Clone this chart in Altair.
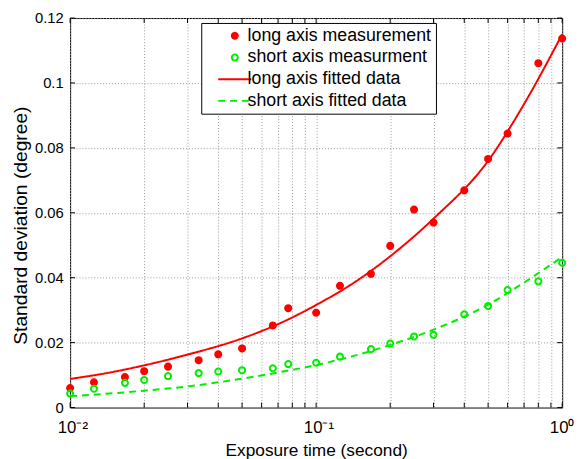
import altair as alt
import pandas as pd

FONT = "Liberation Sans"

# exposure times (s)
exposure = [0.01, 0.0125, 0.0167, 0.02, 0.025, 0.0333, 0.04, 0.05, 0.0667, 0.077,
            0.1, 0.125, 0.167, 0.2, 0.25, 0.3, 0.4, 0.5, 0.6, 0.8, 1.0]
long_meas = [0.0060, 0.0078, 0.0094, 0.0112, 0.0126, 0.0146, 0.0164, 0.0182, 0.0253, 0.0306,
             0.0292, 0.0375, 0.0412, 0.0498, 0.0610, 0.0570, 0.0669, 0.0766, 0.0844, 0.1061, 0.1137]
short_meas = [0.0043, 0.0058, 0.0076, 0.0085, 0.0097, 0.0106, 0.0111, 0.0115, 0.0121, 0.0134,
              0.0138, 0.0157, 0.0180, 0.0197, 0.0219, 0.0224, 0.0287, 0.0313, 0.0362, 0.0389, 0.0446]

# fitted curves
fit_x = [0.01, 0.015, 0.02, 0.03, 0.05, 0.07, 0.1, 0.15, 0.2, 0.3, 0.5, 0.7, 1.0]
long_fit = [0.0088, 0.0110, 0.0130, 0.0163, 0.0213, 0.0257, 0.0316, 0.0396, 0.0466, 0.0582, 0.0760, 0.0935, 0.1150]
short_fit = [0.0035, 0.0044, 0.0052, 0.0065, 0.0089, 0.0108, 0.0131, 0.0164, 0.0193, 0.0240, 0.0317, 0.0385, 0.0464]

series_names = ["long axis measurement", "short axis measurment",
                "long axis fitted data", "short axis fitted data"]

x_ticks = [0.01, 0.02, 0.03, 0.04, 0.05, 0.06, 0.07, 0.08, 0.09,
           0.1, 0.2, 0.3, 0.4, 0.5, 0.6, 0.7, 0.8, 0.9, 1.0]
y_ticks = [0, 0.02, 0.04, 0.06, 0.08, 0.1, 0.12]

meas = pd.concat([
    pd.DataFrame({"x": exposure, "y": long_meas, "series": series_names[0]}),
    pd.DataFrame({"x": exposure, "y": short_meas, "series": series_names[1]}),
])
fits = pd.concat([
    pd.DataFrame({"x": fit_x, "y": long_fit, "series": series_names[2]}),
    pd.DataFrame({"x": fit_x, "y": short_fit, "series": series_names[3]}),
])
xt = pd.DataFrame({"t": x_ticks})
yt = pd.DataFrame({"t": y_ticks})

RED = "#ff0000"
GREEN = "#00ee00"
LINE_SYM = "M-5.6,0L5.6,0"

W, H = 499, 395

legend = alt.Legend(orient="none", legendX=133, legendY=5, title=None,
                    strokeColor="black", fillColor="white", padding=4,
                    labelFont=FONT, labelFontSize=18, labelColor="black", labelLimit=400,
                    symbolStrokeWidth=2, symbolSize=36, rowPadding=4,
                    symbolOffset=21, labelOffset=4)

color = alt.Color("series:N", scale=alt.Scale(domain=series_names, range=[RED, GREEN, RED, GREEN]),
                  legend=legend)
xenc = alt.X("x:Q", scale=alt.Scale(type="log", domain=[0.01, 1], nice=False),
             title="Exposure time (second)",
             axis=alt.Axis(values=x_ticks, labelFlush=False, labelAlign="left", labelOffset=-13,
                           labelFontSize=17,
                           labelExpr="datum.value == 0.01 ? '10⁻²' : (datum.value == 0.1 ? '10⁻¹' : (datum.value == 1 ? '10⁰' : ''))"))
yenc = alt.Y("y:Q", scale=alt.Scale(domain=[0, 0.12], nice=False),
             title="Standard deviation (degree)",
             axis=alt.Axis(values=y_ticks, labelFlush=False, titleY=210,
                           labelExpr="format(datum.value, '~g')"))

points = alt.Chart(meas).mark_point(filled=False, strokeWidth=2, size=38, opacity=1).encode(
    x=xenc, y=yenc, color=color,
    shape=alt.Shape("series:N", scale=alt.Scale(domain=series_names,
                                                range=["circle", "circle", LINE_SYM, LINE_SYM]),
                    legend=legend),
    fill=alt.Fill("series:N", scale=alt.Scale(domain=series_names,
                                              range=[RED, "transparent", RED, "transparent"]),
                  legend=legend),
)

lines = alt.Chart(fits).mark_line(strokeWidth=2, interpolate="monotone").encode(
    x="x:Q", y="y:Q", color=color,
    strokeDash=alt.StrokeDash("series:N", scale=alt.Scale(domain=series_names,
                                                          range=[[1, 0], [1, 0], [1, 0], [7, 5]]),
                              legend=legend),
)

tick_len = 5
xt_bot = alt.Chart(xt).mark_rule(color="black", strokeWidth=1).encode(
    x="t:Q", y=alt.value(H), y2=alt.value(H - tick_len))
xt_top = alt.Chart(xt).mark_rule(color="black", strokeWidth=1).encode(
    x="t:Q", y=alt.value(0), y2=alt.value(tick_len))
yt_left = alt.Chart(yt).mark_rule(color="black", strokeWidth=1).encode(
    y="t:Q", x=alt.value(0), x2=alt.value(tick_len))
yt_right = alt.Chart(yt).mark_rule(color="black", strokeWidth=1).encode(
    y="t:Q", x=alt.value(W), x2=alt.value(W - tick_len))

chart = alt.layer(lines, points, xt_bot, xt_top, yt_left, yt_right).resolve_scale(
    color="shared"
).properties(
    width=W, height=H,
    padding={"left": 63, "top": 7, "right": 12, "bottom": 49},
    autosize=alt.AutoSizeParams(type="none"),
    background="white",
).configure_view(
    stroke="black", strokeWidth=1
).configure_axis(
    domain=False, ticks=False, grid=True, gridDash=[1, 2], gridColor="#999999",
    labelFont=FONT, labelFontSize=15, labelColor="black",
    titleFont=FONT, titleFontWeight="normal", titleColor="black",
).configure_axisX(
    labelPadding=12, titlePadding=7, titleFontSize=17.5,
).configure_axisY(
    labelPadding=7, titlePadding=4, titleFontSize=19.5,
)

chart.save("out.html", embed_options={"renderer": "svg", "actions": False})
